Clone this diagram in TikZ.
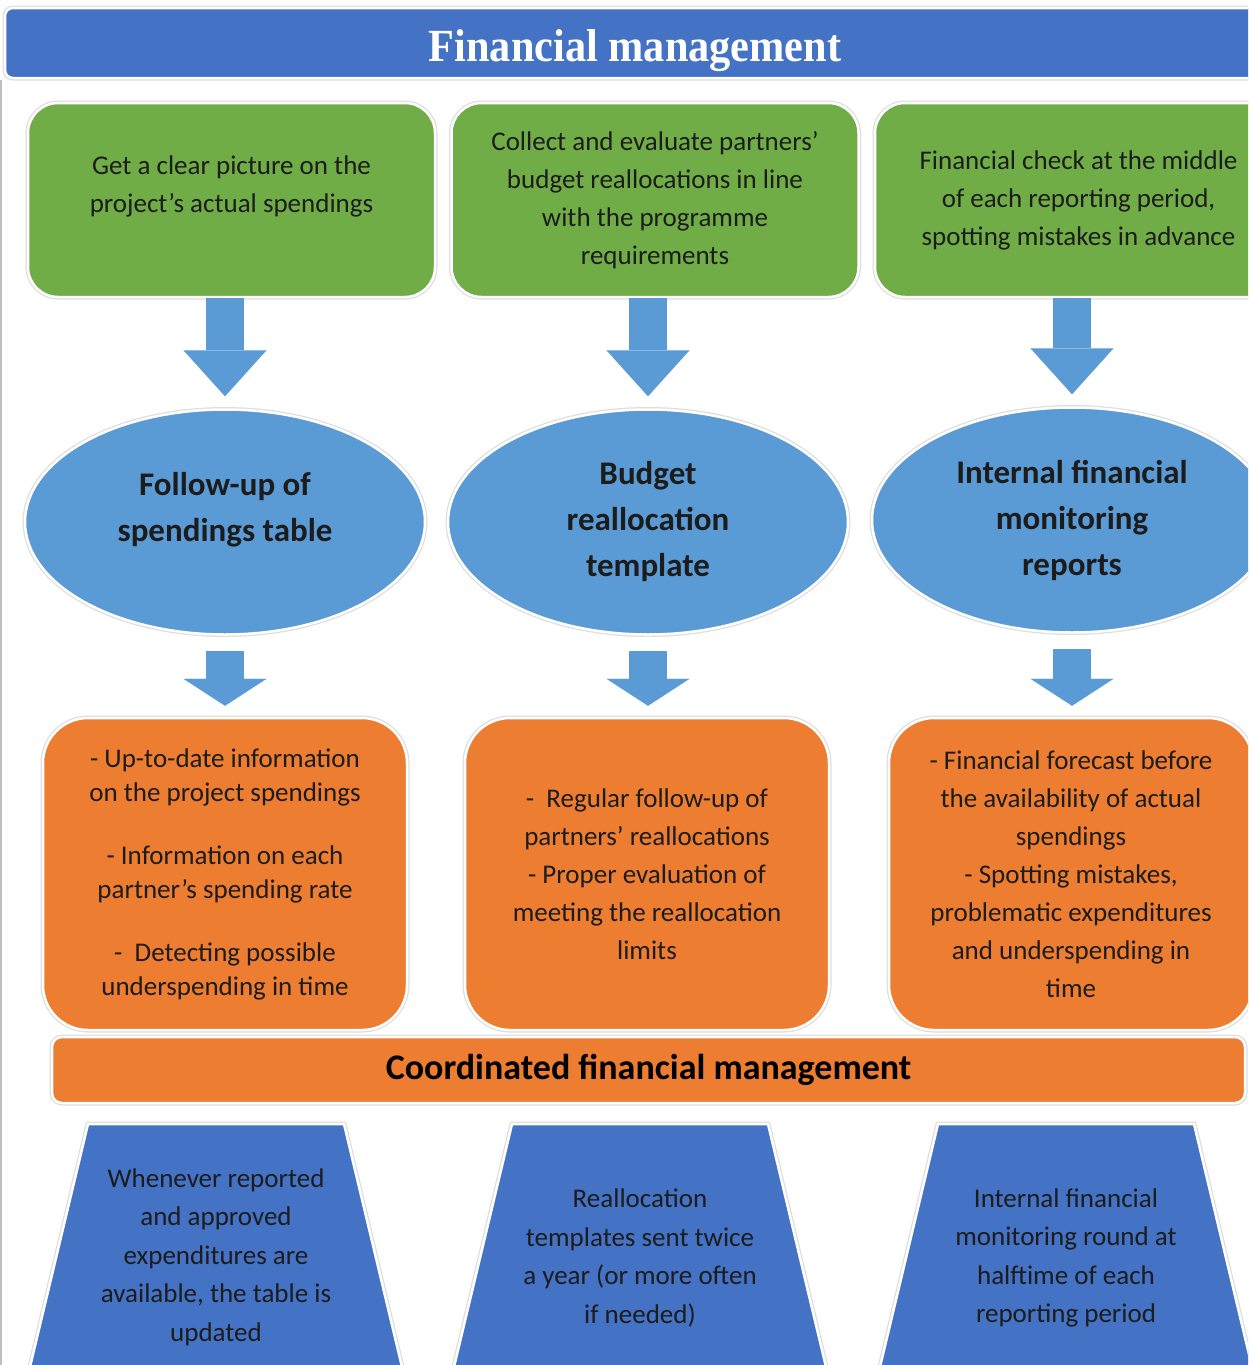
\documentclass[tikz,border=0pt]{standalone}
\usepackage{fontspec}
\setmainfont{Carlito}
\newfontfamily\titlefont{Liberation Serif}
\usetikzlibrary{shapes.geometric,arrows.meta,positioning}

\definecolor{fmblue}{HTML}{4472C4}
\definecolor{fmgreen}{HTML}{70AD47}
\definecolor{fmsky}{HTML}{5B9BD5}
\definecolor{fmorange}{HTML}{ED7D31}
\definecolor{fmtext}{HTML}{1C1C1C}

\tikzset{
  ring/.style={preaction={draw=black!13, line width=5pt}, draw=white, line width=2.5pt},
  aimbox/.style={ring, fill=fmgreen, rounded corners=30pt, minimum width=407pt,
    minimum height=194pt, align=center, text=fmtext, font=\fontsize{27}{38}\selectfont},
  toolnode/.style={ring, ellipse, fill=fmsky, inner sep=0pt, minimum width=400pt,
    minimum height=225pt, align=center, text=fmtext, font=\bfseries\fontsize{33}{46}\selectfont},
  gainbox/.style={ring, fill=fmorange, rounded corners=45pt, minimum width=364pt,
    minimum height=312pt, align=center, text=fmtext, font=\fontsize{27}{38}\selectfont},
  waytext/.style={align=center, text=fmtext, font=\fontsize{27}{38.5}\selectfont},
  downarrow/.style={draw=fmsky, line width=38pt,
    -{Triangle[width=83pt, length=#1, line width=0.1pt]}},
}

\begin{document}
\begin{tikzpicture}[x=1pt, y=-1pt]
  \fill[white] (0,0) rectangle (1248,1365);
  \clip (0,0) rectangle (1248,1365);
  \draw[black!25, line width=2pt] (1,80) -- (1,1365);

  % title
  \node[ring, fill=fmblue, rounded corners=8pt, minimum width=1260pt, minimum height=70pt,
    text=white, font=\titlefont\bfseries\fontsize{46}{46}\selectfont] (title) at (635,43)
    {\raisebox{-8pt}[\height][\depth]{\scalebox{0.92}[1]{Financial management}}};

  % aims
  \node[aimbox] (g1) at (231.5,200) {Get a clear picture on the\\project’s actual  spendings\\[-6pt]~};
  \node[aimbox] (g2) at (655,200) {Collect and evaluate partners’\\budget reallocations in line\\with the programme\\requirements};
  \node[aimbox] (g3) at (1078.5,200) {Financial check at the middle\\of each reporting period,\\spotting mistakes in advance};

  % tools
  \node[toolnode] (e1) at (225,522) {Follow-up of\\spendings table\\[-16pt]~};
  \node[toolnode] (e2) at (648,522) {Budget\\reallocation\\template};
  \node[toolnode] (e3) at (1072,520) {Internal financial\\monitoring\\reports};

  % gains
  \node[gainbox, font=\fontsize{27}{34}\selectfont] (o1) at (225,874)
    {- Up-to-date information\\on the project spendings\\[29pt]- Information on each\\partner’s spending rate\\[29pt]-\ \ Detecting possible\\underspending in time};
  \node[gainbox] (o2) at (647,874)
    {-\ \ Regular follow-up of\\partners’ reallocations\\- Proper evaluation of\\meeting the reallocation\\limits};
  \node[gainbox] (o3) at (1071,874)
    {- Financial forecast before\\the availability of actual\\spendings\\- Spotting mistakes,\\problematic expenditures\\and underspending in\\time};

  \node[ring, fill=fmorange, rounded corners=10pt, minimum width=1193pt, minimum height=66pt,
    text=black, font=\bfseries\fontsize{36}{36}\selectfont] (coord) at (648.5,1070)
    {Coordinated financial management};

  % arrows
  \foreach \i in {1,2,3} {
    \draw[downarrow=46pt, shorten >=12pt] (g\i.south -| e\i.north) -- (e\i.north);
    \draw[downarrow=27pt, shorten <=15pt, shorten >=11pt] (e\i.south) -- (o\i.north -| e\i.south);
  }

  % timing
  \foreach \cx in {216,640,1066}
    \path[ring, fill=fmblue] ({\cx-128},1124) -- ({\cx+128},1124) -- ({\cx+192},1392)
      -- ({\cx-192},1392) -- cycle;
  \node[waytext] (t1) at (216,1257) {Whenever reported\\and approved\\expenditures are\\available, the table is\\updated};
  \node[waytext] (t2) at (640,1258) {Reallocation\\templates sent twice\\a year (or more often\\if needed)};
  \node[waytext] (t3) at (1066,1258) {Internal financial\\monitoring round at\\halftime of each\\reporting period};
\end{tikzpicture}
\end{document}
